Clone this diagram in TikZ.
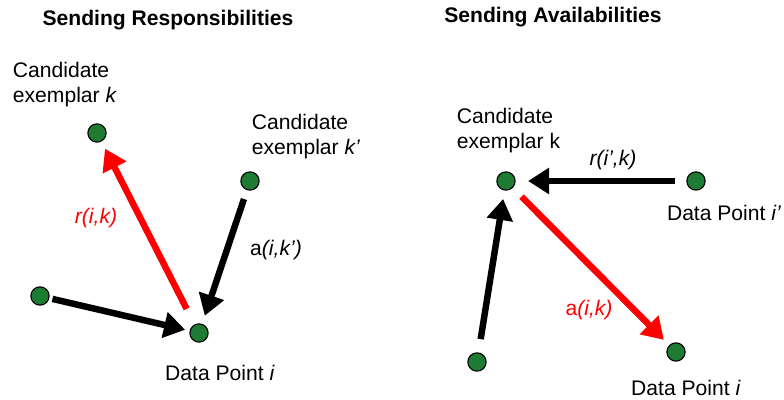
\documentclass[tikz,border=0pt]{standalone}
\usepackage{fontspec}
\setmainfont{Liberation Sans}
\usetikzlibrary{arrows.meta}
\definecolor{dotgreen}{HTML}{1E7B34}

\begin{document}
\begin{tikzpicture}[x=0.025cm,y=-0.025cm,
  every node/.style={font=\fontsize{15}{17.8}\selectfont},
  dot/.style={circle,draw=black,line width=0.8pt,fill=dotgreen,minimum size=13pt,inner sep=0pt,outer sep=0pt},
  msg/.style={line width=4.6pt,-{Triangle[length=15pt,width=18pt]}},
  title/.style={font=\fontsize{15}{18}\selectfont\bfseries}]

\useasboundingbox (0,0) rectangle (784,400);

% Sending Responsibilities
\node [title] at (168,20) {Sending Responsibilities};

\node (K) [dot] at (97,133) {};
\node (KP) [dot] at (250,181) {};
\node (I) [dot] at (199,333) {};
\node (J) [dot] at (40,296) {};

\node [anchor=west,align=left] at (8,85) {Candidate\\exemplar \textit{k}};
\node [anchor=west,align=left] at (247,137) {Candidate\\exemplar \textit{k’}};
\node at (220,373) {Data Point \textit{i}};

\draw [msg,red,shorten <=12.8pt,shorten >=6pt] (I) -- (K);
\draw [msg,shorten <=7pt,shorten >=6.4pt] (KP) -- (I);
\draw [msg,shorten <=2.6pt,shorten >=3.6pt] (J) -- (I);

\node [red] at (96,218) {\textit{r(i,k)}};
\node at (276,250) {a\textit{(i,k’)}};

% Sending Availabilities
\node [title] at (553,17) {Sending Availabilities};

\node (K2) [dot] at (506,181) {};
\node (IP2) [dot] at (696,181) {};
\node (J2) [dot] at (477,362) {};
\node (I2) [dot] at (676,352) {};

\node [anchor=west,align=left] at (452,131) {Candidate\\exemplar k};
\node [anchor=east] at (786,213) {Data Point \textit{i’}};
\node at (686,388) {Data Point \textit{i}};

\draw [msg,shorten <=8.5pt,shorten >=9.2pt] (IP2) -- (K2);
\draw [msg,shorten <=10pt,shorten >=6.4pt] (J2) -- (K2);
\draw [msg,red,shorten <=9.2pt,shorten >=5.7pt] (K2) -- (I2);

\node at (613,160) {\textit{r(i’,k)}};
\node [red] at (589,310) {a\textit{(i,k)}};

\end{tikzpicture}
\end{document}
